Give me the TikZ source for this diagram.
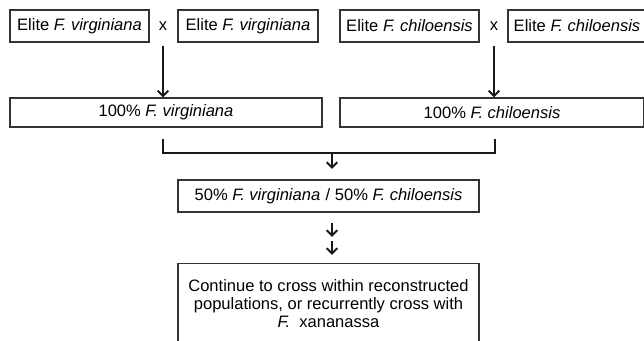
\documentclass[tikz,border=0pt]{standalone}
\usepackage{fontspec}
\setmainfont{Liberation Sans}
\usepackage{tikz}
\usetikzlibrary{arrows.meta, positioning, calc}

\begin{document}
\begin{tikzpicture}[x=0.75pt, y=-0.75pt,
            parent_box/.style={rectangle, draw=black!80, line width=0.8pt, inner sep=0pt,
            minimum height=24pt, align=center, font=\fontsize{12.4}{13.5}\selectfont},
            pop_box/.style={parent_box, minimum height=21.75pt},
            cross_sign/.style={inner sep=0pt, font=\fontsize{12.4}{13.5}\selectfont},
            arr/.style={-{Straight Barb[length=4pt, width=8pt]}, line width=1.5pt, black!90},
            link/.style={line width=1.5pt, black!90}
        ]

            \useasboundingbox (0,0) rectangle (644,341);

            % Elite parents (top row)
            \node[parent_box, minimum width=104.25pt] (v1) at (79.5, 26) {Elite \textit{F. virginiana}};
            \node[cross_sign] (x1) at (163, 26) {x};
            \node[parent_box, minimum width=105pt] (v2) at (248, 26) {Elite \textit{F. virginiana}};
            \node[parent_box, minimum width=104.25pt] (c1) at (409.5, 26) {Elite \textit{F. chiloensis}};
            \node[cross_sign] (x2) at (494, 26) {x};
            \node[parent_box, minimum width=103.5pt] (c2) at (577, 26) {Elite \textit{F. chiloensis}};

            % Reconstructed species
            \node[pop_box, minimum width=234pt] (virg) at (166, 112.5) {100\% \textit{F. virginiana}};
            \node[pop_box, minimum width=228pt] (chil) at (492, 112.5) {100\% \textit{F. chiloensis}};

            % Hybrid and next step
            \node[parent_box, minimum width=225.75pt] (hyb) at (328.5, 196)
                {50\% \textit{F. virginiana}\,\,/ 50\% \textit{F. chiloensis}};
            \node[parent_box, minimum width=225.75pt, minimum height=70.5pt, anchor=north] (cont) at (328.5, 263)
                {\raisebox{25.5pt}{\parbox{215pt}{\centering Continue to cross within reconstructed\\
                populations, or recurrently cross with\\ \textit{F.}\ \ xananassa}}};

            % Crosses into species
            \draw[arr] ($(x1 |- v1.south)+(0,3)$) -- (x1 |- virg.north);
            \draw[arr] ($(x2 |- c1.south)+(0,3)$) -- (x2 |- chil.north);

            % Bracket joining both species
            \coordinate (jl) at (163, 153);
            \coordinate (jr) at (495, 153);
            \coordinate (jm) at (332, 153);
            \draw[link, line cap=rect] ($(jl)+(0,-13)$) -- (jl) -- (jr) -- ++(0,-13);
            \draw[arr] (jm) -- ++(0,16);

            % Two arrows down to the last box
            \coordinate (d1) at (332, 223);
            \coordinate (d2) at (332, 241);
            \draw[arr] (d1) -- ++(0,14);
            \draw[arr] (d2) -- ++(0,14);

        \end{tikzpicture}
\end{document}
